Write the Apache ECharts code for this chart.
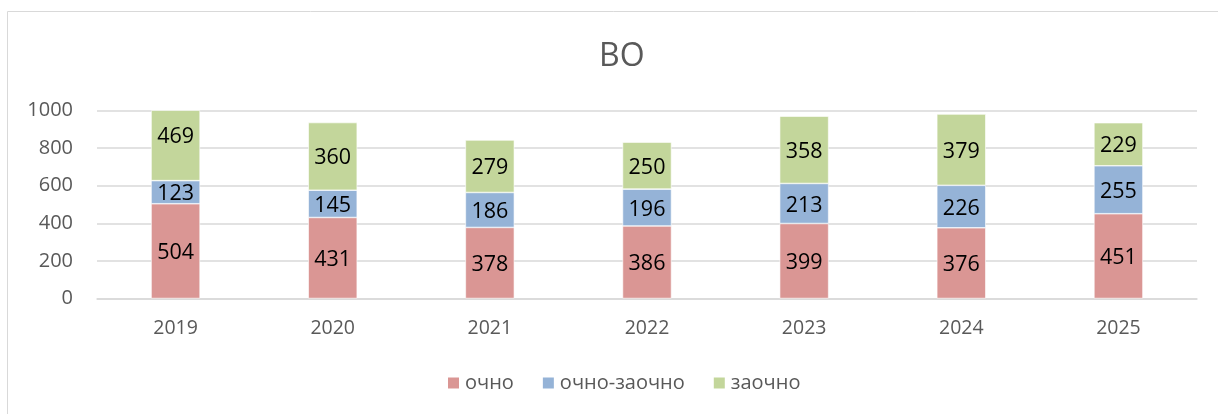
<!DOCTYPE html>
<html><head><meta charset="utf-8">
<script src="https://cdn.jsdelivr.net/npm/echarts@6/dist/echarts.min.js"></script>
<style>html,body{margin:0;padding:0;background:#fff}#c{width:1218px;height:414px}</style>
</head><body><div id="c"></div>
<script>
const categories = ['2019','2020','2021','2022','2023','2024','2025'];
const seriesNames = ['очно','очно-заочно','заочно'];
const ochno = [504,431,378,386,399,376,451];
const ochnoZaochno = [123,145,186,196,213,226,255];
const zaochno = [469,360,279,250,358,379,229];
const yTicks = [0,200,400,600,800,1000];
const colors = ['#DA9694','#95B3D7','#C3D69B'];
const font = "'Open Sans', 'Noto Sans', sans-serif";
const yMax = yTicks[yTicks.length-1];
const plotH = 414 - 110.5 - 115.5;
const chart = echarts.init(document.getElementById('c'), null, {renderer:'canvas'});
// labels sit at the centre of the full (unclipped) segment, like the original
const mk = (name, data, i, below) => ({
  name, type:'bar', stack:'t', barWidth:49,
  data: data.map((v, k) => {
    const base = below.reduce((s, arr) => s + arr[k], 0);
    const over = Math.max(0, base + v - yMax);
    return over > 0 ? {value:v, label:{offset:[0, -over/2 * plotH / yMax]}} : v;
  }),
  itemStyle:{color:colors[i], borderColor:'#fff', borderWidth:0.6},
  label:{show:true, position:'inside', color:'#000', fontSize:21.5, fontFamily:font, offset:[0,2]},
  emphasis:{disabled:true}
});
chart.setOption({
  animation:false,
  title:{text:'ВО', left:594, top:36, textStyle:{fontSize:32, fontWeight:'normal', color:'#595959', fontFamily:font}},
  graphic:[{type:'rect', shape:{x:7.5,y:11.5,width:1220,height:420}, style:{fill:'none', stroke:'#d9d9d9', lineWidth:1}}],
  grid:{left:97, right:21, top:110.5, bottom:115.5},
  legend:{bottom:16, left:441, itemWidth:13, itemHeight:13, itemGap:27, icon:'rect',
    textStyle:{fontSize:20, color:'#595959', fontFamily:font}, data:seriesNames},
  xAxis:{type:'category', data:categories, axisTick:{show:false},
    axisLine:{lineStyle:{color:'#d9d9d9', width:1.5}},
    axisLabel:{fontSize:19.5, color:'#595959', margin:20, fontFamily:font}},
  yAxis:{type:'value', min:yTicks[0], max:yMax, interval:200,
    axisLine:{show:false}, axisTick:{show:false},
    splitLine:{lineStyle:{color:'#d9d9d9', width:1.5}},
    axisLabel:{fontSize:20, color:'#595959', margin:24, fontFamily:font, formatter:v => String(v)}},
  series:[mk(seriesNames[0], ochno, 0, []), mk(seriesNames[1], ochnoZaochno, 1, [ochno]), mk(seriesNames[2], zaochno, 2, [ochno, ochnoZaochno])]
});
</script></body></html>
